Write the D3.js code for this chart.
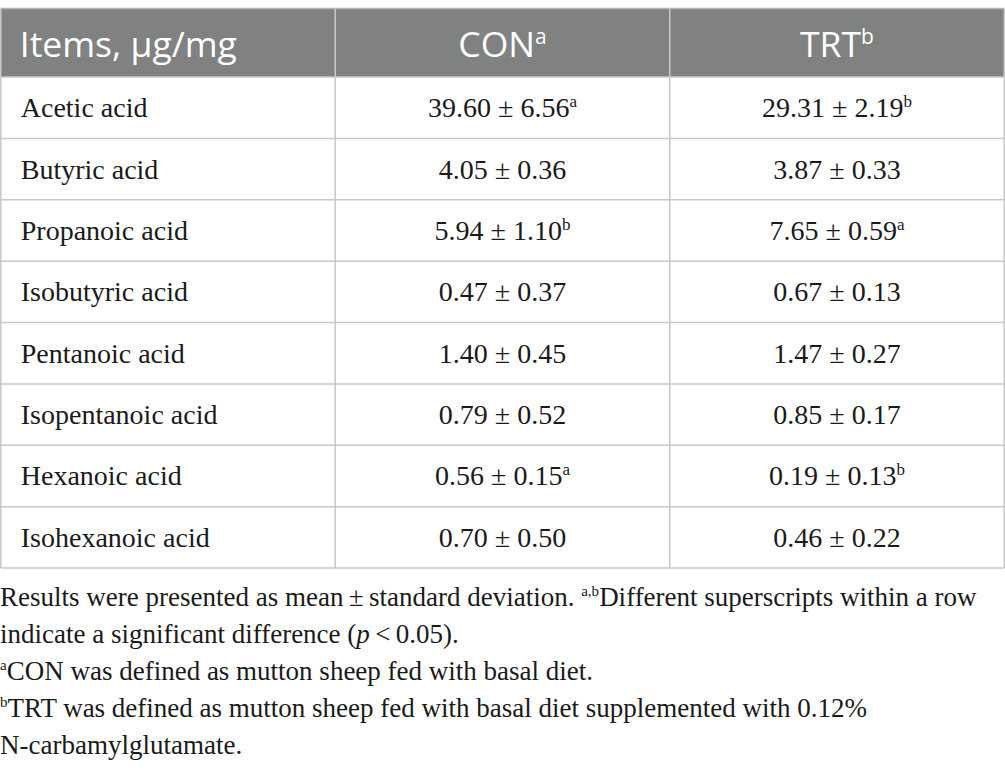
<!DOCTYPE html>
<html>
<head>
<meta charset="utf-8">
<script src="https://cdn.jsdelivr.net/npm/d3@7"></script>
<style>
  body { margin: 0; background: #fff; }
  svg { display: block; }
</style>
</head>
<body>
<div id="table"></div>
<script>

// table values
var items = ["Acetic acid", "Butyric acid", "Propanoic acid", "Isobutyric acid",
  "Pentanoic acid", "Isopentanoic acid", "Hexanoic acid", "Isohexanoic acid"];
var conMean = ["39.60", "4.05", "5.94", "0.47", "1.40", "0.79", "0.56", "0.70"];
var conSd   = ["6.56", "0.36", "1.10", "0.37", "0.45", "0.52", "0.15", "0.50"];
var conSup  = ["a", "", "b", "", "", "", "a", ""];
var trtMean = ["29.31", "3.87", "7.65", "0.67", "1.47", "0.85", "0.19", "0.46"];
var trtSd   = ["2.19", "0.33", "0.59", "0.13", "0.27", "0.17", "0.13", "0.22"];
var trtSup  = ["b", "", "a", "", "", "", "b", ""];
var headers = [["Items, \u03bcg/mg", ""], ["CON", "a"], ["TRT", "b"]];

var width = 1005;
var height = 774;

var svg = d3.select("#table")
  .append("svg")
  .attr("width", width)
  .attr("height", height);

var tableTop = 8.5, headH = 68.5, tableBottom = 568;
var x = d3.scaleLinear().domain([0, 3]).range([0.75, 1004.25]);
var y = d3.scaleBand().domain(d3.range(items.length)).range([tableTop + headH, tableBottom]);

var lineColor = "#c8c8c8";
var headFill = "#808281";
var ink = "#1a1a1a";
var serif = "'Liberation Serif', 'Times New Roman', serif";
var sans = "'Open Sans', 'Noto Sans', sans-serif";

// header band
svg.append("rect")
  .attr("x", x(0))
  .attr("y", tableTop)
  .attr("width", x(3) - x(0))
  .attr("height", headH)
  .attr("fill", headFill);

var head = svg.append("g").selectAll("text")
  .data(headers)
  .enter().append("text")
    .attr("x", function(d, i) { return i == 0 ? x(0) + 19 : (x(i) + x(i + 1)) / 2; })
    .attr("y", tableTop + 48.5)
    .attr("text-anchor", function(d, i) { return i == 0 ? "start" : "middle"; })
    .attr("font-family", sans)
    .attr("font-size", "35.5px")
    .attr("fill", "#fff");
head.append("tspan").text(function(d) { return d[0]; });
head.append("tspan")
  .attr("font-size", "21px")
  .attr("dy", "-13")
  .text(function(d) { return d[1]; });

// body rows
var rows = svg.append("g").selectAll("g")
  .data(items)
  .enter().append("g")
    .attr("transform", function(d, i) { return "translate(0," + y(i) + ")"; });

rows.append("text")
  .attr("x", x(0) + 20)
  .attr("y", y.bandwidth() / 2 + 9.5)
  .attr("font-family", serif)
  .attr("font-size", "28px")
  .attr("fill", ink)
  .text(function(d) { return d; });

function cell(col, means, sds, sups) {
  var t = rows.append("text")
    .attr("x", (x(col) + x(col + 1)) / 2)
    .attr("y", y.bandwidth() / 2 + 9.5)
    .attr("text-anchor", "middle")
    .attr("font-family", serif)
    .attr("font-size", "28px")
    .attr("fill", ink);
  t.append("tspan").text(function(d, i) { return means[i] + " \u00b1 " + sds[i]; });
  t.append("tspan")
    .attr("font-size", "17px")
    .attr("dy", "-10")
    .text(function(d, i) { return sups[i]; });
}
cell(1, conMean, conSd, conSup);
cell(2, trtMean, trtSd, trtSup);

// grid lines
var grid = svg.append("g")
  .attr("stroke", lineColor)
  .attr("stroke-width", 1.5)
  .attr("fill", "none");

grid.append("line")
  .attr("x1", x(0)).attr("x2", x(3))
  .attr("y1", tableTop).attr("y2", tableTop)
  .attr("stroke", "#b5b5b5");

grid.selectAll(".h")
  .data(d3.range(items.length + 1))
  .enter().append("line")
    .attr("x1", x(0)).attr("x2", x(3))
    .attr("y1", function(i) { return i == items.length ? tableBottom : y(i); })
    .attr("y2", function(i) { return i == items.length ? tableBottom : y(i); });

grid.selectAll(".v")
  .data([0, 1, 2, 3])
  .enter().append("line")
    .attr("x1", function(i) { return x(i); })
    .attr("x2", function(i) { return x(i); })
    .attr("y1", tableTop)
    .attr("y2", tableBottom);

// footnotes
var notes = svg.append("g")
  .attr("font-family", serif)
  .attr("font-size", "27px")
  .attr("fill", ink);

var lh = 37;
var n1 = notes.append("text").attr("x", 0).attr("y", 606);
n1.append("tspan").text("Results were presented as mean\u2009\u00b1\u2009standard deviation. ");
n1.append("tspan").attr("font-size", "15px").attr("dy", "-10").text("a,b");
n1.append("tspan").attr("dy", "10").text("Different superscripts within a row");

var n2 = notes.append("text").attr("x", 0).attr("y", 606 + lh);
n2.append("tspan").text("indicate a significant difference (");
n2.append("tspan").attr("font-style", "italic").text("p");
n2.append("tspan").text("\u2009<\u20090.05).");

var n3 = notes.append("text").attr("x", 0).attr("y", 606 + lh * 2);
n3.append("tspan").attr("font-size", "15px").attr("dy", "-10").text("a");
n3.append("tspan").attr("dy", "10").text("CON was defined as mutton sheep fed with basal diet.");

var n4 = notes.append("text").attr("x", 0).attr("y", 606 + lh * 3);
n4.append("tspan").attr("font-size", "15px").attr("dy", "-10").text("b");
n4.append("tspan").attr("dy", "10").text("TRT was defined as mutton sheep fed with basal diet supplemented with 0.12%");

notes.append("text").attr("x", 0).attr("y", 606 + lh * 4).text("N-carbamylglutamate.");

</script>
</body>
</html>
